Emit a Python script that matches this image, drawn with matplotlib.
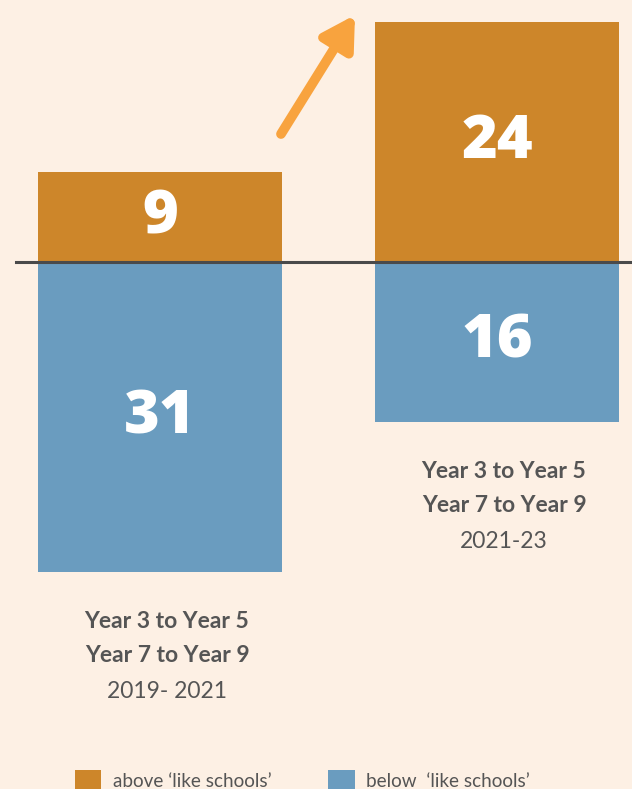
import matplotlib
matplotlib.use("Agg")
import matplotlib.pyplot as plt
from matplotlib.patches import Patch

# ---- data ----
periods = ["2019- 2021", "2021-23"]
group_lines = ["Year 3 to Year 5", "Year 7 to Year 9"]
above = [9, 24]
below = [31, 16]
legend_labels = ["above \u2018like schools\u2019", "below  \u2018like schools\u2019"]

# ---- style ----
BG = "#FDF0E4"
ORANGE = "#CD862A"
BLUE = "#6A9CBF"
TEXT = "#555555"
ARROW = "#F8A33E"
plt.rcParams["font.family"] = ["Lato", "DejaVu Sans"]

W, H = 632, 789
fig = plt.figure(figsize=(W / 100, H / 100), dpi=100, facecolor=BG)
ax = fig.add_axes([0, 0, 1, 1])
ax.set_facecolor(BG)
ax.set_axis_off()

# scale: ~10 px per unit, baseline at 262 px from top
ax.set_ylim(-(H - 262) / 10, 262 / 10)
ax.set_xlim(-160 / 337, 1 + (W - 497) / 337)

x = list(range(len(periods)))
bw = 244 / 337
ax.bar(x, above, width=bw, color=ORANGE, zorder=2)
ax.bar(x, [-v for v in below], width=bw, color=BLUE, zorder=2)
ax.axhline(0, xmin=16 / W, xmax=1, color="#4A4A4A", lw=2.2, zorder=3)

numfont = ["Open Sans", "Lato", "DejaVu Sans"]
for xi, a, b in zip(x, above, below):
    ax.text(xi, a / 2, str(a), ha="center", va="center", color="white",
            fontsize=44, fontweight="heavy", family=numfont, zorder=4)
    ax.text(xi, -b / 2, str(b), ha="center", va="center", color="white",
            fontsize=44, fontweight="heavy", family=numfont, zorder=4)

# category labels under each bar
for xi, b, p in zip(x, below, periods):
    for k, (t, wt) in enumerate(zip(group_lines + [p], ["bold", "bold", "normal"])):
        ax.annotate(t, xy=(xi, -b), xytext=(7, -49 - 35 * k),
                    textcoords="offset pixels", ha="center", va="center",
                    color=TEXT, fontsize=16.5, fontweight=wt)

# arrow
ax.annotate("", xy=(355, H - 15), xycoords="figure pixels",
            xytext=(281, H - 134), textcoords="figure pixels",
            arrowprops=dict(arrowstyle="-|>,head_length=0.95,head_width=0.55",
                            mutation_scale=20, lw=7, color=ARROW,
                            capstyle="round", shrinkA=0, shrinkB=0))

# legend
handles = [Patch(facecolor=ORANGE, edgecolor="none"),
           Patch(facecolor=BLUE, edgecolor="none")]
fig.legend(handles, legend_labels, loc="lower left",
           bbox_to_anchor=(58 / W, -20 / H), ncol=2, frameon=False,
           fontsize=13.6, labelcolor=TEXT, handlelength=1.4, handleheight=1.4,
           handletextpad=0.6, columnspacing=3.0)

fig.savefig("out.png", dpi=100, facecolor=BG)
